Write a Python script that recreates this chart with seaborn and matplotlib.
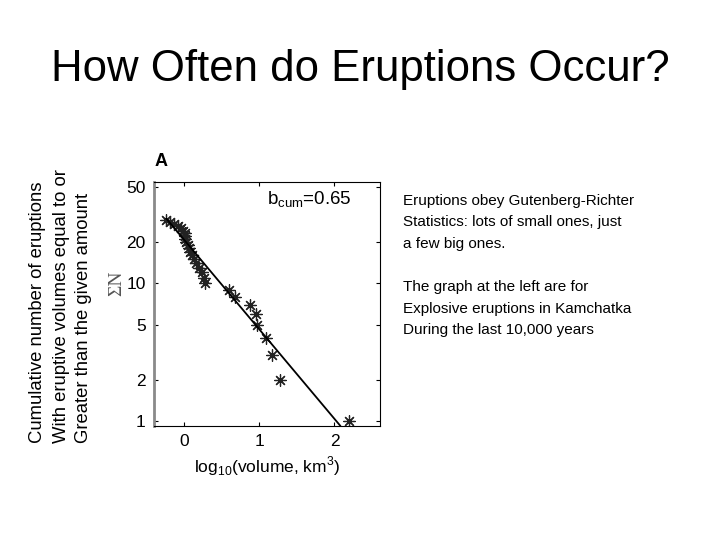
import numpy as np
import pandas as pd
import matplotlib
matplotlib.use("Agg")
import matplotlib.pyplot as plt
import seaborn as sns

# ======================
# data

log_volume = [-0.24, -0.19, -0.14, -0.08, -0.04, -0.02, 0.01, 0.01, 0.01, 0.02,
              0.05, 0.06, 0.08, 0.10, 0.13, 0.16, 0.20, 0.24, 0.26, 0.28,
              0.60, 0.68, 0.88, 0.95, 0.97, 1.09, 1.17, 1.27, 2.20]
cum_count = [29, 28, 27, 26, 25, 24, 23, 22, 21, 20,
             19, 18, 17, 16, 15, 14, 13, 12, 11, 10,
             9, 8, 7, 6, 5, 4, 3, 2, 1]

# fitted line end points (b_cum = 0.65)
fit_x = [-0.24, 2.08]
fit_y = [29.5, 0.92]

x_ticks = [0, 1, 2]
y_ticks = [1, 2, 5, 10, 20, 50]

df = pd.DataFrame({"log_volume": log_volume, "cum_count": cum_count})

# ======================
# plot setup
sns.set_theme(style="white")
plt.rcParams['font.family'] = ['Liberation Sans', 'DejaVu Sans']
plt.rcParams['mathtext.fontset'] = 'custom'
plt.rcParams['mathtext.rm'] = 'Liberation Sans'
plt.rcParams['text.color'] = 'black'
plt.rcParams['axes.labelcolor'] = 'black'
plt.rcParams['xtick.color'] = 'black'
plt.rcParams['ytick.color'] = 'black'

fig = plt.figure(figsize=(7.2, 5.4), dpi=100)
fig.patch.set_facecolor("white")

W, H = 720, 540
ax = fig.add_axes([154 / W, 1 - 426 / H, (379.5 - 154) / W, (426 - 182) / H])

sns.lineplot(x=fit_x, y=fit_y, color="black", linewidth=1.3, ax=ax)
sns.scatterplot(
    data=df,
    x="log_volume",
    y="cum_count",
    marker=(8, 2, 0),
    s=70,
    color="#222222",
    edgecolor="#222222",
    linewidth=0.9,
    ax=ax
)

ax.set_yscale("log")
ax.set_xlim(-0.404, 2.6)
ax.set_ylim(0.92, 54.4)
ax.set_xticks(x_ticks)
ax.set_xticklabels([str(t) for t in x_ticks])
ax.set_yticks(y_ticks)
ax.set_yticklabels([str(t) for t in y_ticks])
ax.minorticks_off()
ax.tick_params(direction="in", length=3, width=0.8, labelsize=12.5,
               top=True, right=True, bottom=True, left=True, colors="black", pad=6)
ax.set_xlabel(r"log$_{10}$(volume, km$^{3}$)", fontsize=12.5, labelpad=4)
ax.set_ylabel("")

for side in ["top", "right", "bottom"]:
    ax.spines[side].set_color("black")
    ax.spines[side].set_linewidth(0.8)
ax.spines["left"].set_color("#8a8a8a")
ax.spines["left"].set_linewidth(2.0)

ax.text(0.50, 0.926, r"b$_{\rm cum}$=0.65", transform=ax.transAxes,
        fontsize=13.5, ha="left", va="center")

# panel letter and y label
fig.text(161 / W, 1 - 162 / H, "A", fontsize=13, fontweight="bold",
         ha="center", va="center")
fig.text(117 / W, 1 - 283 / H, "ΣN", fontsize=14, family="Liberation Serif",
         color="#555555", rotation=90, ha="center", va="center")

# title
fig.text(0.5, 1 - 70 / H, "How Often do Eruptions Occur?", fontsize=31.5,
         ha="center", va="center")

# rotated side text
side_lines = ["Cumulative number of eruptions",
              "With eruptive volumes equal to or",
              "Greater than the given amount"]
for xp, line in zip([38, 61, 84], side_lines):
    fig.text(xp / W, 1 - 443 / H, line, fontsize=13.3, rotation=90,
             rotation_mode="anchor", ha="left", va="center")

# right hand notes
notes = ["Eruptions obey Gutenberg-Richter",
         "Statistics: lots of small ones, just",
         "a few big ones.",
         "The graph at the left are for",
         "Explosive eruptions in Kamchatka",
         "During the last 10,000 years"]
for yp, line in zip([201, 222.5, 244, 287, 308.5, 330], notes):
    fig.text(403 / W, 1 - yp / H, line, fontsize=11, ha="left", va="center")

plt.savefig("out.png", dpi=100, facecolor="white")
